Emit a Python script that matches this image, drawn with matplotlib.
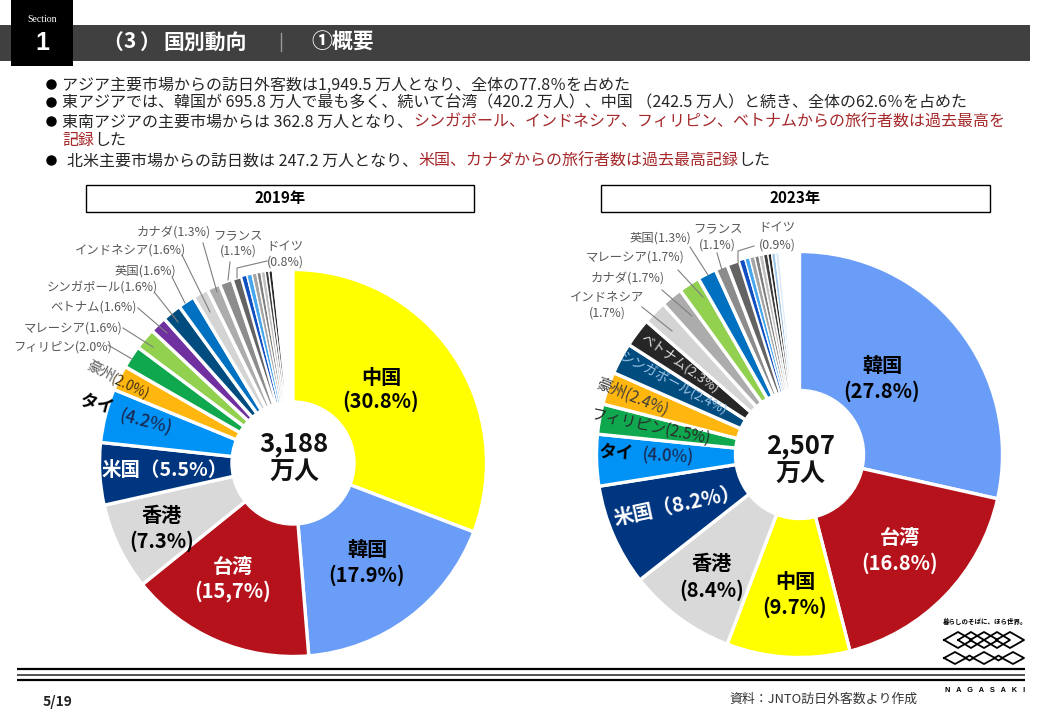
import matplotlib
matplotlib.use("Agg")
import matplotlib.pyplot as plt
from matplotlib.patches import Rectangle, Circle

plt.rcParams['font.family'] = ['Noto Sans CJK JP', 'DejaVu Sans']

# ---------- data (wedge sizes) ----------
names_2019 = ['中国', '韓国', '台湾', '香港', '米国', 'タイ', '豪州', 'フィリピン', 'マレーシア', 'ベトナム',
              'シンガポール', '英国', 'インドネシア', 'カナダ', 'フランス', 'ドイツ',
              'その他1', 'その他2', 'その他3', 'その他4', 'その他5', 'その他6', 'その他7', '微小市場']
values_2019 = [30.8, 17.9, 15.5, 7.3, 5.2, 4.5, 2.1, 1.9, 1.8, 1.4, 1.6, 1.4, 1.3, 1.1, 1.1, 0.8,
               0.45, 0.45, 0.4, 0.35, 0.35, 0.3, 0.3, 1.7]
names_2023 = ['韓国', '台湾', '中国', '香港', '米国', 'タイ', 'フィリピン', '豪州', 'シンガポール', 'ベトナム',
              'インドネシア', 'カナダ', 'マレーシア', '英国', 'フランス', 'ドイツ',
              'その他1', 'その他2', 'その他3', 'その他4', 'その他5', 'その他6', 'その他7', 'その他8', 'その他9', '微小市場']
values_2023 = [28.5, 17.5, 9.8, 8.6, 8.1, 4.1, 2.4, 2.6, 2.5, 2.3, 1.9, 1.7, 1.7, 1.5, 1.0, 1.0,
               0.45, 0.4, 0.4, 0.35, 0.35, 0.35, 0.3, 0.3, 0.3, 1.6]
total_2019 = '3,188'
total_2023 = '2,507'

colors = {'中国': '#FFFF00', '韓国': '#6A9DF7', '台湾': '#B5121B', '香港': '#D9D9D9', '米国': '#00357F',
          'タイ': '#0092F5', '豪州': '#FFB70F', 'フィリピン': '#0FA84F', 'マレーシア': '#92D050',
          'ベトナム': '#7030A0', 'シンガポール': '#004C7F', '英国': '#0070C0', 'インドネシア': '#D4D4D4',
          'カナダ': '#ACACAC', 'フランス': '#8C8C8C', 'ドイツ': '#636363', '微小市場': '#FFFFFF'}
others = ['#0F4FBF', '#46A7EE', '#A5A5A5', '#7F7F7F', '#BFBFBF', '#404040', '#262626', '#9DC3E6', '#DEEBF7']


def pie_colors(names, override=None):
    out, k = [], 0
    for n in names:
        if n in colors:
            out.append((override or {}).get(n, colors[n]))
        else:
            out.append(others[k])
            k += 1
    return out


W, H = 1040, 720
fig = plt.figure(figsize=(W / 100, H / 100), dpi=100, facecolor='white')


def draw_pie(cx, cy, r, hole, values, cols):
    pad = 1.03
    size = 2 * r * pad
    ax = fig.add_axes([(cx - size / 2) / W, 1 - (cy + size / 2) / H, size / W, size / H])
    wedges, _ = ax.pie(values, colors=cols, startangle=90, counterclock=False, radius=1,
                       wedgeprops=dict(edgecolor='white', linewidth=2.4))
    for w in wedges[16:]:
        w.set_linewidth(1.0)
    ax.add_patch(Circle((0, 0), hole / r, color='white', zorder=5))
    ax.set_xlim(-pad, pad)
    ax.set_ylim(-pad, pad)
    ax.axis('off')


draw_pie(293, 463, 193.5, 62, values_2019, pie_colors(names_2019))
draw_pie(799.5, 454.5, 203, 65, values_2023, pie_colors(names_2023, {'ベトナム': '#262626'}))

ov = fig.add_axes([0, 0, 1, 1])
ov.set_xlim(0, W)
ov.set_ylim(H, 0)
ov.axis('off')
ov.patch.set_alpha(0)

# ---------- header ----------
ov.add_patch(Rectangle((0, 25), 1030, 36, color='#404040', lw=0))
ov.add_patch(Rectangle((11, 0), 62, 66, color='#000000', lw=0))
ov.text(42, 20, 'Section', color='white', fontsize=7, family='Liberation Serif', ha='center', va='center')
ov.text(42, 43, '1', color='white', fontsize=18, family='Liberation Sans', weight='bold', ha='center', va='center')
ov.text(102, 42, '（', color='white', fontsize=15, weight='bold', va='center', ha='left')
ov.text(130, 42, '3', color='white', fontsize=15, weight='bold', va='center', ha='center')
ov.text(139, 42, '）', color='white', fontsize=15, weight='bold', va='center', ha='left')
ov.text(163, 42, '国別動向', color='white', fontsize=15, weight='bold', va='center')
ov.plot([281, 281], [33, 51], color='#9a9a9a', lw=1)
ov.text(311, 42, '①概要', color='white', fontsize=15, weight='bold', va='center')

# ---------- body ----------
DARK = '#262626'
RED = '#A5282A'
lines = [
    (62, 85, [('アジア主要市場からの訪日外客数は1,949.5 万人となり、全体の77.8％を占めた', DARK)]),
    (62, 103, [('東アジアでは、韓国が 695.8 万人で最も多く、続いて台湾（420.2 万人）、中国 （242.5 万人）と続き、全体の62.6％を占めた', DARK)]),
    (62, 122, [('東南アジアの主要市場からは 362.8 万人となり、', DARK),
               ('シンガポール、インドネシア、フィリピン、ベトナムからの旅行者数は過去最高を', RED)]),
    (62, 141, [('記録', RED), ('した', DARK)]),
    (67, 161, [('北米主要市場からの訪日数は 247.2 万人となり、', DARK), ('米国、カナダからの旅行者数は過去最高記録', RED), ('した', DARK)]),
]
renderer = fig.canvas.get_renderer()
for x, y, runs in lines:
    for s, c in runs:
        t = ov.text(x, y, s, color=c, fontsize=11.5, va='center')
        bb = t.get_window_extent(renderer)
        x += bb.width
for y in [84, 102, 121, 160]:
    ov.plot([51], [y], 'o', color='black', ms=6.5)

# ---------- year boxes ----------
for x0, x1, s in [(86, 474, '2019年'), (601, 990, '2023年')]:
    ov.add_patch(Rectangle((x0, 185), x1 - x0, 27, fc='white', ec='black', lw=1))
    ov.text((x0 + x1) / 2, 198.5, s, fontsize=11, weight='bold', ha='center', va='center', color='black')

# ---------- centre totals ----------
for cx, y, s in [(294, 444, total_2019), (801, 446, total_2023)]:
    ov.text(cx, y, s, fontsize=18.5, weight='bold', ha='center', va='center', color='#111111', zorder=6)
    ov.text(cx, y + 28, '万人', fontsize=18, weight='bold', ha='center', va='center', color='#111111', zorder=6)

# ---------- big labels ----------
BIG = 14.5
big = [(381, 377, '中国', 'black'), (381, 401, '(30.8%)', 'black'), (367, 550, '韓国', 'black'), (367, 575, '(17.9%)', 'black'),
       (233, 566, '台湾', 'white'), (233, 591, '(15,7%)', 'white'), (162, 516, '香港', 'black'), (162, 541, '(7.3%)', 'black'),
       (882, 366, '韓国', 'black'), (882, 391, '(27.8%)', 'black'), (900, 537, '台湾', 'white'), (900, 563, '(16.8%)', 'white'),
       (795, 582, '中国', 'black'), (795, 607, '(9.7%)', 'black'), (712, 563, '香港', 'black'), (712, 590, '(8.4%)', 'black')]
for x, y, s, c in big:
    ov.text(x, y, s, fontsize=BIG, weight='bold', color=c, ha='center', va='center')

ov.text(165, 470, '米国（5.5%）', fontsize=14, weight='bold', color='white', ha='center', va='center')
ov.text(677, 505, '米国（8.2%）', fontsize=14.5, weight='bold', color='white', ha='center', va='center', rotation=12)
ov.text(97, 405, 'タイ', fontsize=12.5, weight='bold', color='black', ha='center', va='center', rotation=-15)
ov.text(146, 423, '(4.2%)', fontsize=12.5, color='#1a2a55', weight='medium', ha='center', va='center', rotation=-15)
ov.text(617, 453, 'タイ', fontsize=12.5, weight='bold', color='black', ha='center', va='center', rotation=-3)
ov.text(668, 457, '(4.0%)', fontsize=12, color='#1a2a55', weight='medium', ha='center', va='center', rotation=-3)

# ---------- rotated mid labels ----------
mid = [(100, 371, '豪州', '#595959', -28, 10.5), (130, 387, '(2.0%)', '#403010', -25, 9.8),
       (632, 397, '豪州(2.4%)', '#3a3a3a', -22, 11), (651, 427, 'フィリピン(2.5%)', '#2a2a2a', -12, 11),
       (673, 384, 'シンガポール(2.4%)', '#9DC3E6', -28, 9.5), (680, 363, 'ベトナム(2.3%)', '#E0E0E0', -35, 9.5)]
for x, y, s, c, rot, fs in mid:
    ov.text(x, y, s, fontsize=fs, color=c, ha='center', va='center', rotation=rot, rotation_mode='anchor')

# ---------- small labels ----------
small = [(174, 232, 'カナダ(1.3%)'), (238, 236, 'フランス'), (238, 251, '(1.1%)'), (285, 247, 'ドイツ'), (285, 262, '(0.8%)'),
         (130, 250, 'インドネシア(1.6%)'), (145, 271, '英国(1.6%)'), (102, 288, 'シンガポール(1.6%)'), (94, 307, 'ベトナム(1.6%)'),
         (73, 328, 'マレーシア(1.6%)'), (63, 347, 'フィリピン(2.0%)'),
         (607, 297, 'インドネシア'), (607, 313, '(1.7%)'), (628, 278, 'カナダ(1.7%)'), (635, 257, 'マレーシア(1.7%)'),
         (660, 238, '英国(1.3%)'), (718, 229, 'フランス'), (717, 245, '(1.1%)'), (777, 228, 'ドイツ'), (777, 245, '(0.9%)')]
for x, y, s in small:
    ov.text(x, y, s, fontsize=8.9, color='#595959', ha='center', va='center')

# ---------- leader lines ----------
leaders = [[(203, 243), (217, 292)], [(230, 262), (228, 280)], [(267, 261), (237, 268), (237, 278)],
           [(182, 255), (210, 312)], [(172, 277), (185, 303)], [(155, 293), (178, 322)], [(138, 308), (167, 333)],
           [(123, 328), (153, 347)], [(108, 345), (132, 359)],
           [(642, 307), (672, 331)], [(662, 290), (692, 316)], [(678, 270), (703, 297)], [(690, 247), (708, 275)],
           [(717, 253), (722, 270)], [(754, 246), (738, 251), (738, 263)]]
for pts in leaders:
    ov.plot([p[0] for p in pts], [p[1] for p in pts], color='#7f7f7f', lw=0.8)

# ---------- footer ----------
for y, lw, c in [(669, 1.6, 'black'), (674.5, 1.2, '#333333'), (680, 1.6, 'black')]:
    ov.plot([17, 1025], [y, y], color=c, lw=lw, solid_capstyle='butt')
ov.text(58, 702, '5/19', fontsize=10, weight='bold', ha='center', va='center', color='#222222')
ov.text(824, 699, '資料：JNTO訪日外客数より作成', fontsize=9.3, ha='center', va='center', color='#333333')

# ---------- logo ----------
ov.text(985, 621, '暮らしのそばに、ほら世界。', fontsize=4.7, weight='bold', ha='center', va='center', color='black')
ov.text(985, 690, 'N   A   G   A   S   A   K   I', fontsize=5.3, weight='bold', family='Liberation Sans',
        ha='center', va='center', color='black')


def diamond(cx, cy, hw, hh):
    ov.plot([cx - hw, cx, cx + hw, cx, cx - hw], [cy, cy - hh, cy, cy + hh, cy], color='black', lw=1.3)


for cx in [958, 984, 1010]:
    diamond(cx, 640, 14, 8)
for cx in [971, 997]:
    diamond(cx, 640, 13, 8)
for cx in [955, 984, 1013]:
    diamond(cx, 658, 11, 6)
for cx in [969.5, 998.5]:
    diamond(cx, 658, 4, 2.5)

fig.savefig('out.png', dpi=100, facecolor='white')
